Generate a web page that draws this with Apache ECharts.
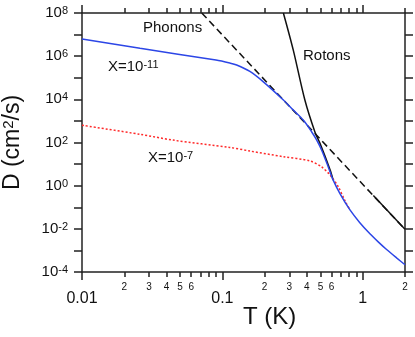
<!DOCTYPE html>
<html><head><meta charset="utf-8">
<script src="https://cdn.jsdelivr.net/npm/echarts@6/dist/echarts.min.js"></script>
<style>html,body{margin:0;padding:0;background:#fff}#c{width:415px;height:337px}</style>
</head><body><div id="c"></div>
<script>
// ---- tick values & labels ----
const xMajorTicks = [0.01, 0.1, 1];
const xMajorLabels = ['0.01', '0.1', '1'];
const xMinorTicks = [0.02,0.03,0.04,0.05,0.06,0.07,0.08,0.09,0.2,0.3,0.4,0.5,0.6,0.7,0.8,0.9,2];
const xMinorLabelTicks = [0.02,0.03,0.04,0.05,0.06,0.2,0.3,0.4,0.5,0.6,2];
const xMinorLabels = ['2','3','4','5','6','2','3','4','5','6','2'];
const yTicks = [1e-4,1e-3,1e-2,1e-1,1,1e1,1e2,1e3,1e4,1e5,1e6,1e7,1e8];
const yLabelTicks = [1e-4,1e-2,1,1e2,1e4,1e6,1e8];
const yLabelExponents = ['-4','-2','0','2','4','6','8'];

// ---- series values ----
const T_x11 = [0.01, 0.0259, 0.09, 0.113, 0.1264, 0.157, 0.195, 0.272, 0.32, 0.377, 0.432, 0.47, 0.509, 0.568, 0.616, 0.688, 0.811, 0.95, 1.125, 1.3, 1.479, 1.75, 2];
const D_x11 = [6.2e6, 2.3e6, 6.6e5, 4.8e5, 3.9e5, 1.95e5, 6.6e4, 9.3e3, 3.2e3, 1.1e3, 316, 129, 45, 7.4, 1.8, 0.43, 0.075, 0.0198, 0.0059, 0.00236, 0.0011, 4.4e-4, 2.17e-4];

const T_x7 = [0.01, 0.0259, 0.0445, 0.113, 0.158, 0.272, 0.421, 0.509, 0.585, 0.67, 0.75, 0.811];
const D_x7 = [630, 240, 129, 59, 40, 22, 14, 7.4, 3.1, 0.87, 0.19, 0.075];

const T_phonon = [0.0713, 2];
const D_phonon = [1e8, 0.0095];
const T_phononTail = [1.19, 2];
const D_phononTail = [0.35, 0.0095];

const T_roton = [0.272, 0.32, 0.387, 0.457, 0.496, 0.584, 0.616];
const D_roton = [1e8, 1.9e6, 9.3e3, 300, 91, 5.6, 1.8];

const FONT = 'Liberation Sans, Arial, Helvetica, sans-serif';
const zip = (a, b) => a.map((v, i) => [v, b[i]]);
const nearest = (arr, v) => {
  let bi = 0, bd = Infinity;
  arr.forEach((t, i) => { const d = Math.abs(Math.log10(t) - Math.log10(v)); if (d < bd) { bd = d; bi = i; } });
  return bi;
};
const axisLineStyle = { color: '#222', width: 1.5 };

const chart = echarts.init(document.getElementById('c'), null, { renderer: 'canvas' });
chart.setOption({
  animation: false,
  backgroundColor: '#fff',
  grid: { left: 82, right: 10, top: 13, bottom: 65, outerBoundsMode: 'none', containLabel: false },
  xAxis: [
    { type: 'log', logBase: 10, min: 0.01, max: 2, position: 'bottom',
      axisLine: { show: true, lineStyle: axisLineStyle },
      axisTick: { show: true, inside: false, length: 8, customValues: xMajorTicks, lineStyle: axisLineStyle },
      axisLabel: { show: true, customValues: xMajorTicks, margin: 19, fontSize: 16, color: '#111', fontFamily: FONT,
        formatter: v => xMajorLabels[nearest(xMajorTicks, v)] },
      splitLine: { show: false } },
    { type: 'log', logBase: 10, min: 0.01, max: 2, position: 'bottom',
      axisLine: { show: false },
      axisTick: { show: true, inside: false, length: 5, customValues: xMinorTicks, lineStyle: axisLineStyle },
      axisLabel: { show: true, customValues: xMinorLabelTicks, margin: 10, fontSize: 10, color: '#111', fontFamily: FONT,
        formatter: v => xMinorLabels[nearest(xMinorLabelTicks, v)] },
      splitLine: { show: false } },
    { type: 'log', logBase: 10, min: 0.01, max: 2, position: 'top',
      axisLine: { show: true, lineStyle: axisLineStyle },
      axisTick: { show: true, inside: false, length: 8, customValues: xMajorTicks, lineStyle: axisLineStyle },
      axisLabel: { show: false }, splitLine: { show: false } },
    { type: 'log', logBase: 10, min: 0.01, max: 2, position: 'top',
      axisLine: { show: false },
      axisTick: { show: true, inside: false, length: 5, customValues: xMinorTicks, lineStyle: axisLineStyle },
      axisLabel: { show: false }, splitLine: { show: false } }
  ],
  yAxis: [
    { type: 'log', logBase: 10, min: 1e-4, max: 1e8, position: 'left',
      axisLine: { show: true, lineStyle: axisLineStyle },
      axisTick: { show: true, inside: false, length: 8, customValues: yTicks, lineStyle: axisLineStyle },
      axisLabel: { show: true, customValues: yLabelTicks, margin: 14, color: '#111', fontFamily: FONT,
        formatter: v => '{b|10}{s|' + yLabelExponents[nearest(yLabelTicks, v)] + '}',
        rich: {
          b: { fontSize: 15, lineHeight: 15, verticalAlign: 'bottom', fontFamily: FONT, color: '#111' },
          s: { fontSize: 11, lineHeight: 11, verticalAlign: 'top', padding: [0, 0, 10, 0], fontFamily: FONT, color: '#111' }
        } },
      splitLine: { show: false },
      name: '{a|D (cm}{s|2}{a|/s)}', nameLocation: 'middle', nameGap: 41, nameRotate: 90,
      nameTextStyle: { color: '#111', fontFamily: FONT,
        rich: {
          a: { fontSize: 23, lineHeight: 23, verticalAlign: 'bottom', fontFamily: FONT, color: '#111' },
          s: { fontSize: 15, lineHeight: 15, verticalAlign: 'top', padding: [0, 0, 14, 0], fontFamily: FONT, color: '#111' }
        } } },
    { type: 'log', logBase: 10, min: 1e-4, max: 1e8, position: 'right',
      axisLine: { show: true, lineStyle: axisLineStyle },
      axisTick: { show: true, inside: false, length: 8, customValues: yTicks, lineStyle: axisLineStyle },
      axisLabel: { show: false }, splitLine: { show: false } }
  ],
  series: [
    { type: 'line', name: 'Phonons', data: zip(T_phonon, D_phonon), showSymbol: false, z: 3,
      lineStyle: { color: '#111', width: 1.5, type: [7, 4] } },
    { type: 'line', name: 'PhononsTail', data: zip(T_phononTail, D_phononTail), showSymbol: false, z: 3,
      lineStyle: { color: '#111', width: 1.5, type: 'solid' } },
    { type: 'line', name: 'Rotons', data: zip(T_roton, D_roton), showSymbol: false, smooth: 0.3, z: 3,
      lineStyle: { color: '#111', width: 1.5 } },
    { type: 'line', name: 'X=1e-7', data: zip(T_x7, D_x7), showSymbol: false, smooth: 0.3, z: 4,
      lineStyle: { color: '#ff2a2a', width: 1.5, type: [2, 2] } },
    { type: 'line', name: 'X=1e-11', data: zip(T_x11, D_x11), showSymbol: false, smooth: 0.3, z: 5,
      lineStyle: { color: '#2c46e6', width: 1.5 } }
  ],
  graphic: [
    { type: 'text', left: 243, top: 305, z: 10, style: { text: 'T (K)', fontSize: 24, fill: '#111', fontFamily: FONT } },
    { type: 'text', left: 143, top: 20, z: 10, style: { text: 'Phonons', fontSize: 15, fill: '#111', fontFamily: FONT } },
    { type: 'text', left: 303, top: 48, z: 10, style: { text: 'Rotons', fontSize: 15, fill: '#111', fontFamily: FONT } },
    { type: 'text', left: 108, top: 59, z: 10, style: { text: '{a|X=10}{s|-11}', fontFamily: FONT,
        rich: { a: { fontSize: 15, lineHeight: 15, verticalAlign: 'bottom', fill: '#111', fontFamily: FONT },
                s: { fontSize: 11, lineHeight: 11, verticalAlign: 'top', padding: [0, 0, 8, 0], fill: '#111', fontFamily: FONT } } } },
    { type: 'text', left: 148, top: 150, z: 10, style: { text: '{a|X=10}{s|-7}', fontFamily: FONT,
        rich: { a: { fontSize: 15, lineHeight: 15, verticalAlign: 'bottom', fill: '#111', fontFamily: FONT },
                s: { fontSize: 11, lineHeight: 11, verticalAlign: 'top', padding: [0, 0, 8, 0], fill: '#111', fontFamily: FONT } } } }
  ]
});
</script>
</body></html>
